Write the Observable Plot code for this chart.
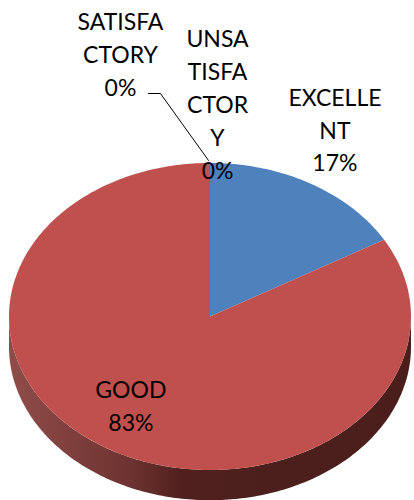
<!DOCTYPE html>
<html>
<head>
<meta charset="utf-8">
<style>html,body{margin:0;padding:0;background:#fff}svg{display:block}</style>
<script src="https://cdn.jsdelivr.net/npm/d3@7"></script>
<script src="https://cdn.jsdelivr.net/npm/@observablehq/plot@0.6"></script>
</head>
<body>
<div id="chart"></div>
<script>
// Data
const categories = ["EXCELLENT", "GOOD", "SATISFACTORY", "UNSATISFACTORY"];
const values = [16.67, 83.33, 0, 0];
const wrappedNames = ["EXCELLE\nNT", "GOOD", "SATISFA\nCTORY", "UNSA\nTISFA\nCTOR\nY"];

// Styles and layout (kept apart from the data)
const sliceColors = ["#4f81bd", "#c0504d", "#9bbb59", "#8064a2"];
const labelOffsetX = [0.119, 0.104, -0.448, 0.035];
const labelOffsetY = [-0.365, -0.297, -0.724, -0.398];
const wallDepth = 0.197;
const leaderOffsets = [[-0.308, -0.456], [-0.249, -0.456], [-0.01, -0.02]];

const total = d3.sum(values);
const arcs = d3.pie().sort(null).value(d => d)(values);
const rim = t => [Math.sin(t), -Math.cos(t)];

// Top surface of each slice
const wedgeRows = [];
arcs.forEach((a, i) => {
  if (a.endAngle <= a.startAngle) return;
  const n = Math.max(2, Math.ceil((a.endAngle - a.startAngle) * 60));
  for (let k = 0; k <= n; k++) {
    const [x, y] = rim(a.startAngle + (a.endAngle - a.startAngle) * k / n);
    wedgeRows.push({cat: categories[i], x1: 0, y1: 0, x2: x, y2: y});
  }
});

// Front wall (visible half only)
const wallRows = [];
arcs.forEach((a, i) => {
  const s = Math.max(a.startAngle, Math.PI / 2), e = Math.min(a.endAngle, Math.PI * 1.5);
  if (e <= s) return;
  const n = Math.ceil((e - s) * 60);
  for (let k = 0; k <= n; k++) {
    const [x, y] = rim(s + (e - s) * k / n);
    wallRows.push({cat: categories[i], x1: x, y1: y, x2: x, y2: y + wallDepth});
  }
});

// Labels
const labelRows = arcs.map((a, i) => {
  const [x, y] = rim((a.startAngle + a.endAngle) / 2);
  return {
    x: x + labelOffsetX[i],
    y: y + labelOffsetY[i],
    text: wrappedNames[i] + "\n" + Math.round(values[i] / total * 100) + "%"
  };
});

// Leader of the SATISFACTORY label, anchored on its slice
const sat = arcs[categories.indexOf("SATISFACTORY")];
const [sx, sy] = rim((sat.startAngle + sat.endAngle) / 2);
const leaderRows = leaderOffsets.map(([dx, dy]) => ({x: sx + dx, y: sy + dy}));

const gradient = () => {
  const svgNS = "http://www.w3.org/2000/svg";
  const defs = document.createElementNS(svgNS, "defs");
  const g = document.createElementNS(svgNS, "linearGradient");
  g.setAttribute("id", "wall");
  g.setAttribute("x1", "0"); g.setAttribute("x2", "1");
  g.setAttribute("y1", "0"); g.setAttribute("y2", "0");
  [[0, "#8f4d4a"], [0.12, "#824240"], [0.3, "#6d3330"], [0.43, "#50201e"], [0.7, "#4b1f1c"], [1, "#4a1e1b"]]
    .forEach(([o, c]) => {
      const st = document.createElementNS(svgNS, "stop");
      st.setAttribute("offset", o); st.setAttribute("stop-color", c);
      g.appendChild(st);
    });
  defs.appendChild(g);
  return defs;
};

const chart = Plot.plot({
  width: 414,
  height: 500,
  margin: 0,
  axis: null,
  style: {background: "#fff"},
  x: {domain: [-210 / 201, 204 / 201], range: [0, 414]},
  y: {domain: [-316.5 / 153.5, 183.5 / 153.5], range: [0, 500]},
  color: {domain: categories, range: sliceColors},
  marks: [
    gradient,
    Plot.area(wallRows, {x1: "x1", y1: "y1", x2: "x2", y2: "y2", z: "cat", fill: "url(#wall)", curve: "linear"}),
    Plot.area(wedgeRows, {x1: "x1", y1: "y1", x2: "x2", y2: "y2", z: "cat", fill: "cat", curve: "linear"}),
    Plot.line(leaderRows, {x: "x", y: "y", stroke: "#000", strokeWidth: 1, curve: "linear"}),
    Plot.text(labelRows, {x: "x", y: "y", text: "text", fill: "#000", fontSize: 23, fontFamily: "Lato", lineHeight: 1.43})
  ]
});
document.getElementById("chart").appendChild(chart);
</script>
</body>
</html>
